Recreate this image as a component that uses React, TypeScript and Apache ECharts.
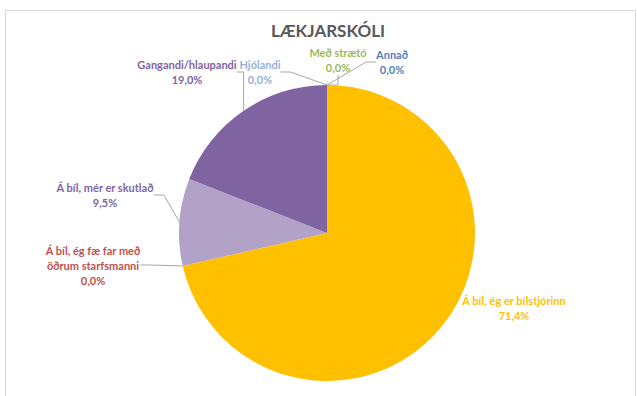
import React, { useEffect, useRef } from "react";
import * as echarts from "echarts";

const TITLE = "LÆKJARSKÓLI";
const categories = [
  "Á bíl, ég er bílstjórinn",
  "Á bíl, ég fæ far með\nöðrum starfsmanni",
  "Á bíl, mér er skutlað",
  "Gangandi/hlaupandi",
  "Hjólandi",
  "Með strætó",
  "Annað",
];
const values = [15, 0, 2, 4, 0, 0, 0];

const sliceColors = ["#FFC000", "#C0504D", "#B3A2C7", "#8064A2", "#95B3D7", "#9BBB59", "#4F81BD"];
const labelColors = ["#FFC000", "#C0504D", "#8064A2", "#8064A2", "#95B3D7", "#9BBB59", "#4F81BD"];
// label anchor positions (layout)
const labelPos: [number, number][] = [
  [514, 308],
  [93, 265],
  [105, 195],
  [187, 72],
  [260, 72],
  [338, 60],
  [392, 62],
];

export default function App() {
  const ref = useRef<HTMLDivElement>(null);
  useEffect(() => {
    if (!ref.current) return;
    const chart = echarts.init(ref.current, null, { renderer: "svg" });
    const total = values.reduce((a, b) => a + b, 0);
    const font = "Lato, 'Open Sans', sans-serif";
    chart.setOption({
      animation: false,
      backgroundColor: "#ffffff",
      title: {
        text: TITLE,
        left: 323,
        textAlign: "center",
        top: 17,
        textStyle: { fontFamily: font, fontSize: 17, fontWeight: "bold", color: "#595959" },
      },
      graphic: [
        {
          type: "rect",
          shape: { x: 5.5, y: 10.5, width: 630, height: 400 },
          style: { fill: "none", stroke: "#D9D9D9", lineWidth: 1 },
          silent: true,
        },
      ],
      series: [
        {
          type: "pie",
          center: [327, 233],
          radius: 148,
          startAngle: 90,
          clockwise: true,
          avoidLabelOverlap: false,
          itemStyle: { borderWidth: 0 },
          label: {
            show: true,
            fontFamily: font,
            fontSize: 11,
            fontWeight: "bold",
            lineHeight: 15,
            align: "center",
            formatter: (p: any) =>
              p.name + "\n" + ((values[p.dataIndex] / total) * 100).toFixed(1).replace(".", ",") + "%",
          },
          labelLine: { show: true, length: 10, length2: 10, lineStyle: { color: "#A6A6A6", width: 1 } },
          labelLayout: (params: any) => {
            const pos = labelPos[params.dataIndex];
            const h = params.labelRect.height;
            return { x: pos[0], y: pos[1] - h / 2, align: "center", verticalAlign: "top" };
          },
          data: categories.map((c, i) => ({
            name: c,
            value: values[i],
            itemStyle: { color: sliceColors[i] },
            label: { color: labelColors[i] },
            labelLine: { show: i !== 0 },
          })),
        },
      ],
    });
    return () => chart.dispose();
  }, []);
  return (
    <div
      ref={ref}
      style={{ position: "fixed", left: 0, top: 0, width: 637, height: 396 }}
    />
  );
}
